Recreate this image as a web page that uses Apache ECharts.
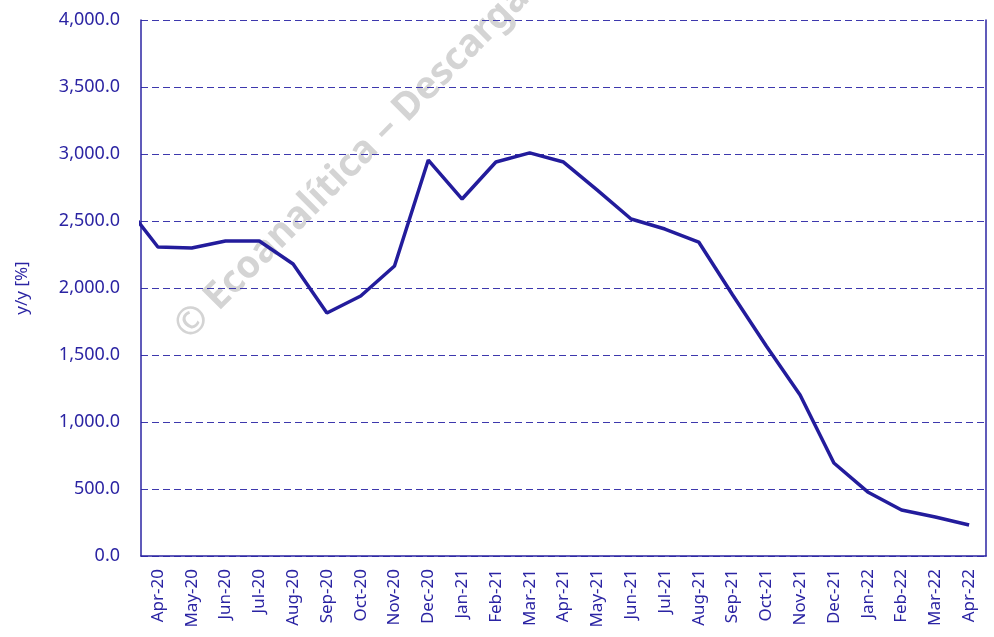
<!DOCTYPE html>
<html>
<head>
<meta charset="utf-8">
<script src="https://cdn.jsdelivr.net/npm/echarts@6/dist/echarts.min.js"></script>
<style>
  html, body { margin: 0; padding: 0; background: #fff; }
  #chart { width: 994px; height: 637px; }
</style>
</head>
<body>
<div id="chart"></div>
<script>
// Months (the first one sits just outside the visible axis, only its segment shows)
const months = ['Mar-20', 'Apr-20', 'May-20', 'Jun-20', 'Jul-20', 'Aug-20', 'Sep-20', 'Oct-20', 'Nov-20', 'Dec-20',
    'Jan-21', 'Feb-21', 'Mar-21', 'Apr-21', 'May-21', 'Jun-21', 'Jul-21', 'Aug-21', 'Sep-21', 'Oct-21',
    'Nov-21', 'Dec-21', 'Jan-22', 'Feb-22', 'Mar-22', 'Apr-22'];

// Variación interanual (%)
const yoyValues = [2630, 2306, 2299, 2351, 2351, 2179, 1813, 1940, 2164, 2955,
    2664, 2940, 3008, 2940, 2730, 2515, 2440, 2343, 1950, 1567,
    1201, 694, 478, 343, 291, 231];

const yTicks = { min: 0, max: 4000, interval: 500 };

const blue = '#2b24a3';
const font = '"Noto Sans", sans-serif';

const chart = echarts.init(document.getElementById('chart'));

const option = {
    animation: false,
    backgroundColor: '#fff',
    grid: {
        left: 141,
        right: 8,
        top: 20,
        bottom: 81
    },
    xAxis: {
        type: 'category',
        data: months,
        min: 1,
        boundaryGap: true,
        axisLine: { lineStyle: { color: blue, width: 1.5 } },
        axisTick: { show: false },
        axisLabel: {
            rotate: 90,
            interval: 0,
            margin: 13,
            color: blue,
            fontFamily: font,
            fontSize: 17
        },
        splitLine: { show: false }
    },
    yAxis: [
        {
            type: 'value',
            min: yTicks.min,
            max: yTicks.max,
            interval: yTicks.interval,
            name: 'y/y [%]',
            nameLocation: 'middle',
            nameGap: 110,
            nameTextStyle: { color: blue, fontFamily: font, fontSize: 17 },
            axisLine: { show: true, lineStyle: { color: blue, width: 1.5 } },
            axisTick: { show: false },
            axisLabel: {
                margin: 21,
                color: blue,
                fontFamily: font,
                fontSize: 18,
                formatter: v => v.toLocaleString('en-US', { minimumFractionDigits: 1, maximumFractionDigits: 1 })
            },
            splitLine: {
                lineStyle: { color: '#3d38ad', type: [7, 4], width: 1 }
            }
        },
        {
            type: 'value',
            min: yTicks.min,
            max: yTicks.max,
            interval: yTicks.interval,
            position: 'right',
            axisLine: { show: true, lineStyle: { color: blue, width: 1.5 } },
            axisTick: { show: false },
            axisLabel: { show: false },
            splitLine: { show: false }
        }
    ],
    graphic: [{
        type: 'text',
        rotation: Math.PI / 4,
        z: 0,
        x: 168,
        y: 320,
        style: {
            text: '© Ecoanalítica – Descargado',
            fill: '#d4d4d4',
            font: 'bold 38px "Noto Sans", sans-serif'
        }
    }],
    series: [{
        name: 'y/y',
        type: 'line',
        data: yoyValues,
        symbol: 'none',
        clip: true,
        z: 5,
        lineStyle: { color: '#231c9c', width: 3.5 }
    }]
};

chart.setOption(option);
</script>
</body>
</html>
